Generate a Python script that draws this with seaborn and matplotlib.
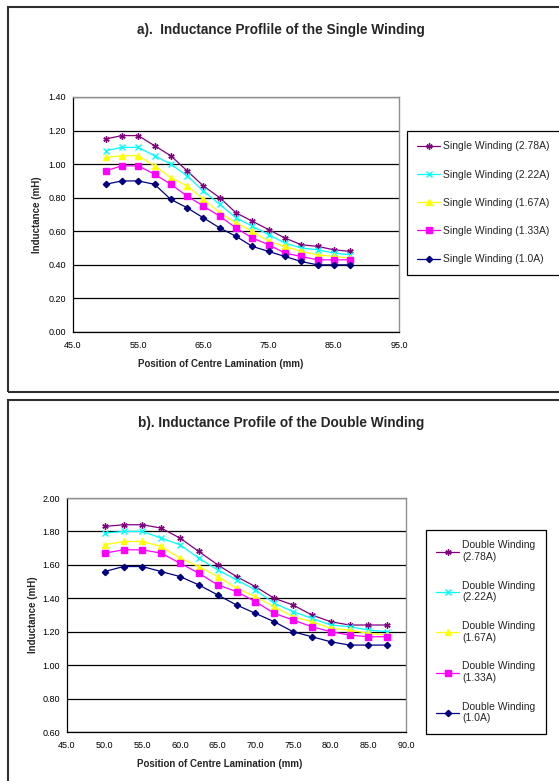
import numpy as np
import pandas as pd
import matplotlib
matplotlib.use("Agg")
import matplotlib.pyplot as plt
import seaborn as sns
from matplotlib.patches import Rectangle

# Data
position = [50.0, 52.5, 55.0, 57.5, 60.0, 62.5, 65.0, 67.5,
            70.0, 72.5, 75.0, 77.5, 80.0, 82.5, 85.0, 87.5]

currents = ['2.78A', '2.22A', '1.67A', '1.33A', '1.0A']

single_278 = [1.15, 1.17, 1.17, 1.11, 1.05, 0.96, 0.87, 0.80, 0.71, 0.66, 0.61, 0.56, 0.52, 0.51, 0.49, 0.48]
single_222 = [1.08, 1.10, 1.10, 1.05, 1.00, 0.93, 0.84, 0.76, 0.68, 0.63, 0.58, 0.53, 0.50, 0.49, 0.47, 0.46]
single_167 = [1.04, 1.05, 1.05, 0.99, 0.92, 0.87, 0.79, 0.71, 0.65, 0.60, 0.54, 0.51, 0.48, 0.46, 0.45, 0.44]
single_133 = [0.96, 0.99, 0.99, 0.94, 0.88, 0.81, 0.75, 0.69, 0.62, 0.56, 0.52, 0.47, 0.45, 0.43, 0.43, 0.43]
single_100 = [0.88, 0.90, 0.90, 0.88, 0.79, 0.74, 0.68, 0.62, 0.57, 0.51, 0.48, 0.45, 0.42, 0.40, 0.40, 0.40]

double_278 = [1.83, 1.84, 1.84, 1.82, 1.76, 1.68, 1.60, 1.53, 1.47, 1.40, 1.36, 1.30, 1.26, 1.24, 1.24, 1.24]
double_222 = [1.79, 1.80, 1.80, 1.76, 1.72, 1.64, 1.57, 1.51, 1.45, 1.37, 1.32, 1.28, 1.24, 1.23, 1.21, 1.20]
double_167 = [1.72, 1.74, 1.74, 1.71, 1.64, 1.59, 1.53, 1.46, 1.41, 1.35, 1.29, 1.26, 1.22, 1.21, 1.19, 1.18]
double_133 = [1.67, 1.69, 1.69, 1.67, 1.61, 1.55, 1.48, 1.44, 1.38, 1.31, 1.27, 1.23, 1.20, 1.18, 1.17, 1.17]
double_100 = [1.56, 1.59, 1.59, 1.56, 1.53, 1.48, 1.42, 1.36, 1.31, 1.26, 1.20, 1.17, 1.14, 1.12, 1.12, 1.12]

single_series = [single_278, single_222, single_167, single_133, single_100]
double_series = [double_278, double_222, double_167, double_133, double_100]

single_xticks = [45.0, 55.0, 65.0, 75.0, 85.0, 95.0]
single_yticks = [0.0, 0.2, 0.4, 0.6, 0.8, 1.0, 1.2, 1.4]
double_xticks = [45.0, 50.0, 55.0, 60.0, 65.0, 70.0, 75.0, 80.0, 85.0, 90.0]
double_yticks = [0.6, 0.8, 1.0, 1.2, 1.4, 1.6, 1.8, 2.0]

COLORS = ['#800080', '#00FFFF', '#FFFF00', '#FF00FF', '#000080']
MARKERS = [(6, 2, 0), 'x', '^', 's', 'D']
MSIZES = [4.5, 4, 4.5, 4.2, 3.2]

sns.set_style("white")
plt.rcParams['font.family'] = ['Liberation Sans', 'DejaVu Sans']

W, H = 559, 781
fig = plt.figure(figsize=(W / 100, H / 100), dpi=100)


def px_axes(x0, y0, x1, y1):
    return fig.add_axes([x0 / W, 1 - y1 / H, (x1 - x0) / W, (y1 - y0) / H])


def draw_panel(ax, series, labels, xticks, yticks):
    for vals, lab, c, m, ms in zip(series, labels, COLORS, MARKERS, MSIZES):
        df = pd.DataFrame({'pos': position, 'L': vals})
        sns.lineplot(data=df, x='pos', y='L', ax=ax, color=c, marker=m,
                     markersize=ms, markeredgecolor=c, markeredgewidth=1.0,
                     linewidth=0.9, label=lab)
    ax.set_xlim(xticks[0], xticks[-1])
    ax.set_ylim(yticks[0], yticks[-1])
    ax.set_xticks(xticks)
    ax.set_yticks(yticks)
    ax.set_xticklabels([f'{t:.1f}' for t in xticks])
    ax.set_yticklabels([f'{t:.2f}' for t in yticks])
    ax.tick_params(axis='both', labelsize=6.5, length=3, width=0.8,
                   direction='out', pad=2, colors='black')
    ax.tick_params(axis='x', pad=3.5)
    ax.grid(axis='y', color='black', linewidth=0.9)
    ax.set_axisbelow(True)
    for side in ['top', 'right']:
        ax.spines[side].set_color('#909090')
        ax.spines[side].set_linewidth(1.0)
    for side in ['left', 'bottom']:
        ax.spines[side].set_color('black')
        ax.spines[side].set_linewidth(0.9)
    ax.set_xlabel('Position of Centre Lamination (mm)', fontsize=7, fontweight='bold')
    ax.set_ylabel('Inductance (mH)', fontsize=7, fontweight='bold')


# panel borders
fig.patches.append(Rectangle((8 / W, 1 - 392 / H), 600 / W, 385 / H,
                             transform=fig.transFigure, fill=False,
                             edgecolor='#303030', linewidth=1.5))
fig.patches.append(Rectangle((8 / W, 1 - 820 / H), 600 / W, 420 / H,
                             transform=fig.transFigure, fill=False,
                             edgecolor='#303030', linewidth=1.5))

# a) single winding
ax1 = px_axes(73, 97, 399, 332)
draw_panel(ax1, single_series, [f'Single Winding ({c})' for c in currents],
           single_xticks, single_yticks)
ax1.xaxis.set_label_coords((221 - 73) / (399 - 73), -0.115)
ax1.yaxis.set_label_coords(-0.095, 0.5)
leg1 = ax1.legend(loc='upper left', bbox_to_anchor=(407 / W, 1 - 131 / H),
                  bbox_transform=fig.transFigure, fontsize=7.5, frameon=True,
                  fancybox=False, edgecolor='black', framealpha=1,
                  handlelength=2.2, handletextpad=0.3, labelspacing=1.75,
                  borderpad=1.0, borderaxespad=0)
leg1.get_frame().set_linewidth(0.9)
fig.text(281 / W, 1 - 30 / H, 'a).  Inductance Proflile of the Single Winding',
         ha='center', va='center', fontsize=9.8, fontweight='bold')

# b) double winding
ax2 = px_axes(67, 498, 406, 732)
draw_panel(ax2, double_series, [f'Double Winding\n({c})' for c in currents],
           double_xticks, double_yticks)
ax2.xaxis.set_label_coords((220 - 67) / (406 - 67), -0.115)
ax2.yaxis.set_label_coords(-0.085, 0.5)
leg2 = ax2.legend(loc='upper left', bbox_to_anchor=(426 / W, 1 - 530 / H),
                  bbox_transform=fig.transFigure, fontsize=7.5, frameon=True,
                  fancybox=False, edgecolor='black', framealpha=1,
                  handlelength=2.2, handletextpad=0.3, labelspacing=1.8,
                  borderpad=1.0, borderaxespad=0)
leg2.get_frame().set_linewidth(0.9)
fig.text(281 / W, 1 - 423 / H, 'b). Inductance Profile of the Double Winding',
         ha='center', va='center', fontsize=9.8, fontweight='bold')

fig.savefig('out.png', dpi=100)
